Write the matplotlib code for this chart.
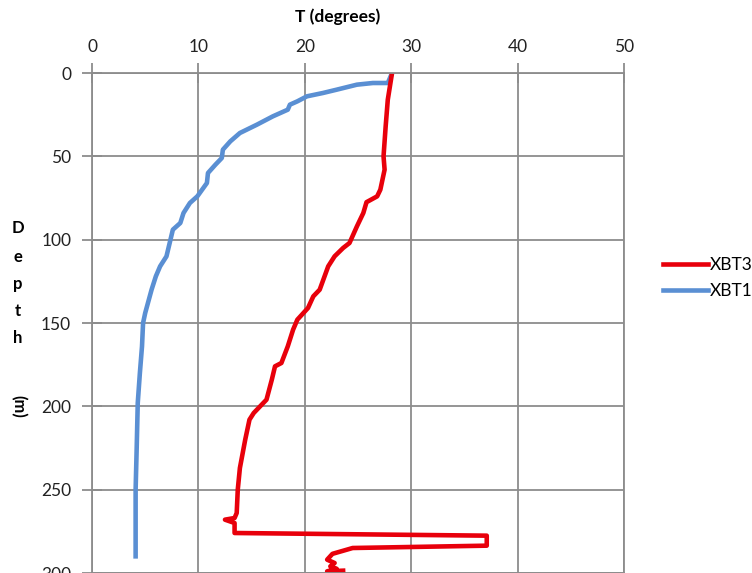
import matplotlib
matplotlib.use("Agg")
import matplotlib.pyplot as plt

# XBT1 profile (blue)
xbt1_temp = [28.2, 27.8, 26.4, 24.9, 23.0, 21.7, 20.2, 19.3, 18.6, 18.4, 17.0, 15.5,
             13.9, 13.0, 12.3, 12.2, 11.6, 10.9, 10.8, 9.9, 9.2, 8.6, 8.3, 7.6,
             7.3, 7.0, 6.4, 6.0, 5.6, 5.3, 5.0, 4.8, 4.7, 4.5, 4.3, 4.2, 4.1, 4.1]
xbt1_depth = [0, 6, 6, 7, 10, 12, 14, 17, 19, 22, 26, 31,
              36, 41, 46, 51, 55, 60, 66, 74, 78, 84, 90, 94,
              102, 110, 116, 122, 130, 137, 144, 150, 164, 180, 198, 225, 250, 290]

# XBT3 profile (red)
xbt3_temp = [28.2, 27.8, 27.6, 27.4, 27.5, 27.1, 26.8, 25.8, 25.5, 24.9, 24.2, 23.6,
             22.8, 22.2, 21.4, 20.8, 20.3, 19.3, 18.9, 18.4, 17.8, 17.2, 16.9, 16.4,
             15.2, 14.8, 14.4, 13.9, 13.7, 13.6, 13.4, 12.5, 13.4, 13.4, 37.1, 37.1,
             24.5, 22.6, 22.1, 22.8, 22.4, 23.0, 22.1, 23.6]
xbt3_depth = [0, 16, 32, 50, 58, 70, 74, 77.5, 84, 92, 102, 105,
              110, 116, 130, 134, 141, 148, 154, 164, 174, 176, 184, 196,
              204, 208, 220, 237, 250, 264, 267, 268, 270, 276, 277.6, 283.6,
              285, 288.5, 292, 294, 296, 297.5, 299, 298.6]

x_ticks = [0, 10, 20, 30, 40, 50]
y_ticks = [0, 50, 100, 150, 200, 250, 300]


def plot_profiles(save_path="out.png"):
    plt.rcParams["font.family"] = ["Lato", "DejaVu Sans"]
    grey = "#8c8c8c"

    fig = plt.figure(figsize=(7.52, 5.73), dpi=100)
    ax = fig.add_axes([92 / 752, 0.0, (624 - 92) / 752, 1 - 73 / 573])

    ax.plot(xbt1_temp, xbt1_depth, color="#5a8fd3", linewidth=3.3, label="XBT1")
    ax.plot(xbt3_temp, xbt3_depth, color="#e8000b", linewidth=3.3, label="XBT3")

    ax.set_xlim(0, 50)
    ax.set_ylim(300, 0)
    ax.set_xticks(x_ticks)
    ax.set_yticks(y_ticks)
    ax.xaxis.tick_top()

    ax.grid(True, color=grey, linewidth=1.3)
    for spine in ax.spines.values():
        spine.set_color(grey)
        spine.set_linewidth(1.3)
    ax.tick_params(direction="inout", length=14, width=1.3, color=grey,
                   labelsize=12.5, labelcolor="#222222")
    ax.tick_params(axis="x", pad=6)
    ax.tick_params(axis="y", pad=8)

    # axis titles
    fig.text(338 / 752, 1 - 17 / 573, "T (degrees)", fontsize=12.5,
             fontweight="bold", ha="center", va="center")
    for ch, y in zip("Depth", [228, 257, 284, 311, 338]):
        fig.text(18 / 752, 1 - y / 573, ch, fontsize=12, fontweight="bold",
                 ha="center", va="center")
    fig.text(18 / 752, 1 - 406 / 573, "(m)", fontsize=12, fontweight="bold",
             ha="center", va="center", rotation=-90)

    handles, labels = ax.get_legend_handles_labels()
    fig.legend(handles[::-1], labels[::-1], loc="center left",
               bbox_to_anchor=(663 / 752, 1 - 278 / 573), frameon=False,
               fontsize=12.5, handlelength=2.6, handletextpad=0.1,
               labelspacing=0.55, borderpad=0, borderaxespad=0)

    fig.savefig(save_path, dpi=100)
    plt.close(fig)


def main():
    plot_profiles()


if __name__ == "__main__":
    main()
